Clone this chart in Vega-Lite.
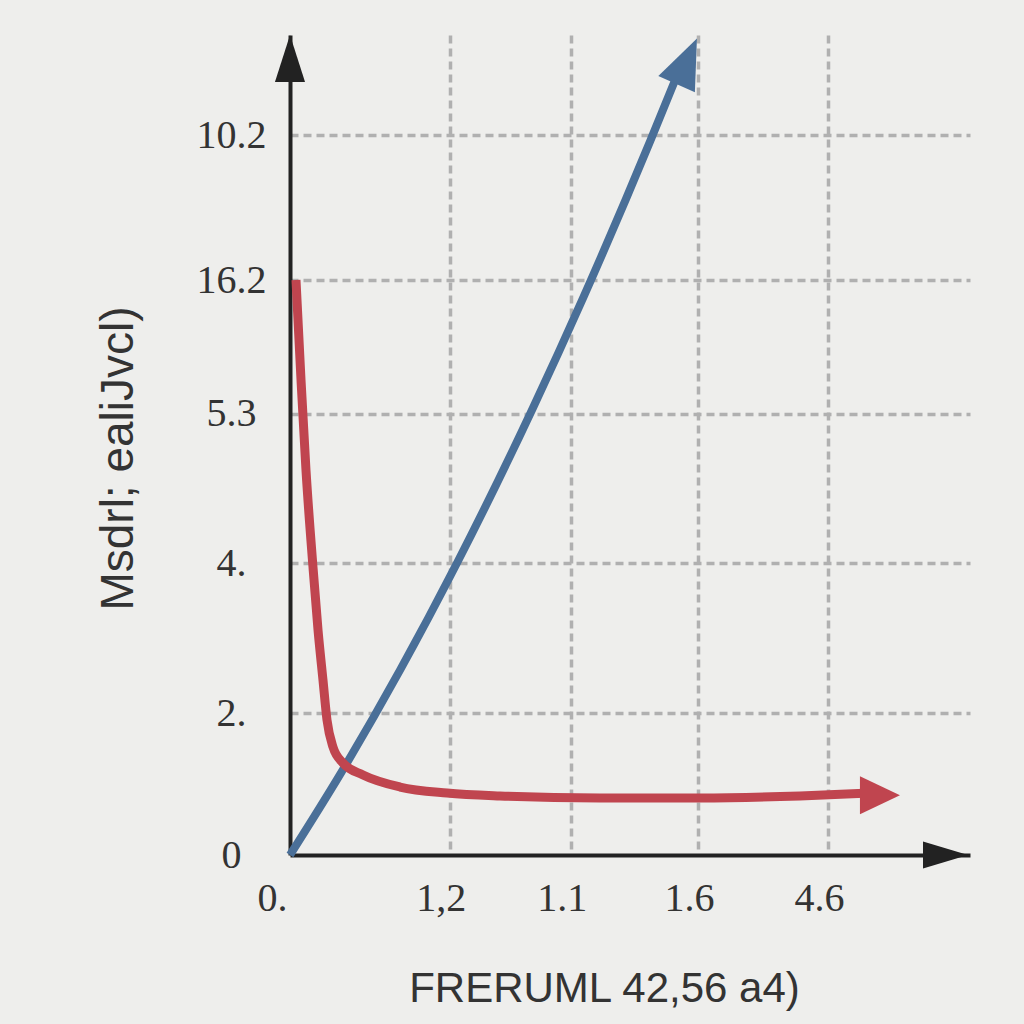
{
  "$schema": "https://vega.github.io/schema/vega-lite/v6.json",
  "autosize": {"type": "none"},
  "width": 680,
  "height": 820,
  "padding": {"left": 290, "top": 35, "right": 54, "bottom": 169},
  "background": "#eeeeec",
  "config": {"view": {"stroke": null}},
  "datasets": {
    "red": [
      {"x": 0.088, "y": 7.012}, {"x": 0.162, "y": 5.793}, {"x": 0.235, "y": 4.695},
      {"x": 0.338, "y": 3.512}, {"x": 0.412, "y": 2.744}, {"x": 0.485, "y": 2.134},
      {"x": 0.544, "y": 1.646}, {"x": 0.632, "y": 1.317}, {"x": 0.779, "y": 1.122},
      {"x": 1.074, "y": 0.976}, {"x": 1.618, "y": 0.829}, {"x": 2.309, "y": 0.756},
      {"x": 3.088, "y": 0.72}, {"x": 4.559, "y": 0.695}, {"x": 6.029, "y": 0.695},
      {"x": 7.5, "y": 0.72}, {"x": 8.529, "y": 0.756}
    ],
    "blue": [
      {"x": 0, "y": 0}, {"x": 0.735, "y": 0.98}, {"x": 1.618, "y": 2.254},
      {"x": 2.456, "y": 3.561}, {"x": 3.574, "y": 5.454}, {"x": 4.309, "y": 6.791},
      {"x": 5.294, "y": 8.7}, {"x": 5.676, "y": 9.476}
    ],
    "arrows": [
      {"arrow": "blue", "x": 5.835, "y": 9.679},
      {"arrow": "red", "x": 8.676, "y": 0.73},
      {"arrow": "yaxis", "x": 0, "y": 9.713},
      {"arrow": "xaxis", "x": 9.64, "y": 0}
    ]
  },
  "encoding": {
    "x": {
      "field": "x", "type": "quantitative",
      "scale": {"domain": [0, 10], "nice": false, "zero": false},
      "axis": {
        "values": [0, 2.35, 4.13, 6.0, 7.91],
        "labelExpr": "datum.value == 0 ? '0.' : datum.value < 3 ? '1,2' : datum.value < 5 ? '1.1' : datum.value < 7 ? '1.6' : '4.6'",
        "ticks": false,
        "labelFont": "Liberation Serif", "labelFontSize": 40, "labelColor": "#333333",
        "labelBaseline": "middle", "labelPadding": 43, "labelFlush": false, "labelOverlap": false, "labelBound": false,
        "labelOffset": {"condition": {"test": "datum.value == 0", "value": -18}, "value": -9},
        "domainColor": "#222222", "domainWidth": 4,
        "grid": true, "gridColor": "#b0b0b0", "gridWidth": 3.5, "gridDash": [8, 5],
        "gridOpacity": {"condition": {"test": "datum.value == 0", "value": 0}, "value": 1},
        "title": "FRERUML 42,56 a4)",
        "titleFont": "Liberation Sans", "titleFontSize": 42, "titleFontWeight": "normal", "titleColor": "#333333",
        "titleX": 314, "titleY": 133, "titleAlign": "center", "titleBaseline": "middle"
      }
    },
    "y": {
      "field": "y", "type": "quantitative",
      "scale": {"domain": [0, 10], "nice": false, "zero": false},
      "axis": {
        "values": [0, 1.73, 3.56, 5.38, 7.01, 8.78],
        "labelExpr": "datum.value == 0 ? '0' : datum.value < 2 ? '2.' : datum.value < 4 ? '4.' : datum.value < 6 ? '5.3' : datum.value < 8 ? '16.2' : '10.2'",
        "ticks": false,
        "labelFont": "Liberation Serif", "labelFontSize": 40, "labelColor": "#333333",
        "labelAlign": "center", "labelBaseline": "middle", "labelPadding": 59, "labelFlush": false, "labelOverlap": false, "labelBound": false,
        "domainColor": "#222222", "domainWidth": 4,
        "grid": true, "gridColor": "#b0b0b0", "gridWidth": 3.5, "gridDash": [8, 5],
        "gridOpacity": {"condition": {"test": "datum.value == 0", "value": 0}, "value": 1},
        "title": "Msdrl; ealiJvcl)",
        "titleFont": "Liberation Sans", "titleFontSize": 46, "titleFontWeight": "normal", "titleColor": "#333333",
        "titleX": -172, "titleY": 423, "titleAngle": -90, "titleAlign": "center", "titleBaseline": "middle"
      }
    }
  },
  "layer": [
    {
      "data": {"name": "blue"},
      "mark": {"type": "line", "color": "#4a6f98", "strokeWidth": 8, "interpolate": "monotone", "strokeCap": "butt"}
    },
    {
      "data": {"name": "red"},
      "mark": {"type": "line", "color": "#c0454f", "strokeWidth": 9, "interpolate": "monotone", "strokeCap": "butt"}
    },
    {
      "data": {"name": "arrows"},
      "transform": [{"filter": "datum.arrow == 'blue'"}],
      "mark": {"type": "point", "shape": "M0,-1L-0.8,1L0.8,1Z", "size": 2500, "angle": 24, "filled": true, "color": "#4a6f98", "opacity": 1, "strokeWidth": 0}
    },
    {
      "data": {"name": "arrows"},
      "transform": [{"filter": "datum.arrow == 'red'"}],
      "mark": {"type": "point", "shape": "M1,0L-1,-0.95L-1,0.95Z", "size": 1600, "filled": true, "color": "#c0454f", "opacity": 1, "strokeWidth": 0}
    },
    {
      "data": {"name": "arrows"},
      "transform": [{"filter": "datum.arrow == 'yaxis'"}],
      "mark": {"type": "point", "shape": "M0,-1L-0.64,1L0.64,1Z", "size": 2209, "filled": true, "color": "#222222", "opacity": 1, "strokeWidth": 0, "clip": false}
    },
    {
      "data": {"name": "arrows"},
      "transform": [{"filter": "datum.arrow == 'xaxis'"}],
      "mark": {"type": "point", "shape": "M1,0L-1,-0.6L-1,0.6Z", "size": 2025, "filled": true, "color": "#222222", "opacity": 1, "strokeWidth": 0, "clip": false}
    }
  ]
}
